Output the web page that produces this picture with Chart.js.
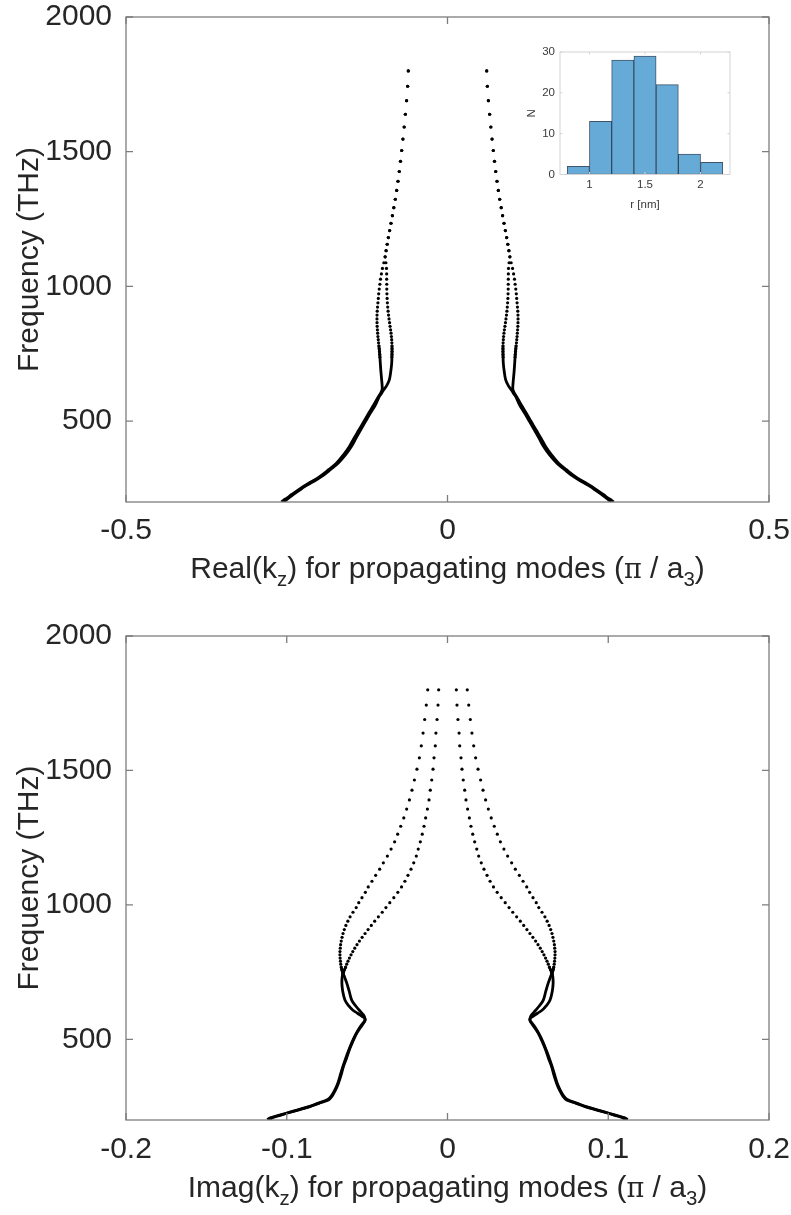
<!DOCTYPE html>
<html><head><meta charset="utf-8">
<script src="https://cdn.jsdelivr.net/npm/chart.js@4.4.0/dist/chart.umd.min.js"></script>
<style>
html,body{margin:0;padding:0;background:#fff;}
body{width:791px;height:1215px;position:relative;overflow:hidden;font-family:"Liberation Sans",Arial,sans-serif;color:#262626;}
.box{position:absolute;left:0;width:791px;}
.xt{position:absolute;left:126px;width:643px;text-align:center;font-size:30px;line-height:34px;white-space:nowrap;color:#262626;}
.xt sub{font-size:0.68em;vertical-align:-0.4em;line-height:0;}
.pi{font-family:"DejaVu Serif","Liberation Serif",serif;font-size:0.9em;}
</style></head><body>
<div class="box" style="top:0;height:600px"><canvas id="topChart"></canvas></div>
<div class="box" style="top:600px;height:615px"><canvas id="botChart"></canvas></div>
<div style="position:absolute;left:520px;top:40px;width:225px;height:180px;"><canvas id="insetChart"></canvas></div>
<div class="xt" style="top:551px">Real(k<sub>z</sub>) for propagating modes (<span class="pi">π</span> / a<sub>3</sub>)</div>
<div class="xt" style="top:1170px">Imag(k<sub>z</sub>) for propagating modes (<span class="pi">π</span> / a<sub>3</sub>)</div>
<script>
// ---------- DATA ----------
const freqDots = [1800.0, 1743.0, 1689.4, 1639.1, 1591.7, 1546.9, 1504.6, 1464.5, 1426.6, 1390.5, 1356.2, 1323.6, 1292.5, 1262.8, 1234.5, 1207.4, 1181.4, 1156.6, 1132.8, 1109.9, 1088.0, 1066.9, 1046.6, 1027.0, 1008.2, 990.1, 972.6, 955.7, 939.3, 923.6, 908.3, 893.6, 879.3, 865.5, 852.0, 839.0, 826.4, 814.2, 802.3, 790.8, 779.6, 768.7, 758.1, 747.8, 737.8];

// Top panel: Real(kz)
const realLeftOuterDots = [-0.0610, -0.0620, -0.0636, -0.0655, -0.0674, -0.0693, -0.0712, -0.0731, -0.0750, -0.0770, -0.0790, -0.0812, -0.0835, -0.0857, -0.0879, -0.0900, -0.0920, -0.0938, -0.0955, -0.0970, -0.0990, -0.1012, -0.1028, -0.1042, -0.1052, -0.1062, -0.1070, -0.1076, -0.1082, -0.1088, -0.1093, -0.1096, -0.1097, -0.1096, -0.1094, -0.1090, -0.1086, -0.1082, -0.1077, -0.1072, -0.1067, -0.1062, -0.1058, -0.1054, -0.1051];
const realLeftInnerDots = [-0.0610, -0.0620, -0.0636, -0.0655, -0.0674, -0.0693, -0.0712, -0.0731, -0.0750, -0.0770, -0.0790, -0.0812, -0.0835, -0.0857, -0.0879, -0.0900, -0.0920, -0.0938, -0.0955, -0.0970, -0.0958, -0.0949, -0.0946, -0.0946, -0.0945, -0.0944, -0.0942, -0.0939, -0.0935, -0.0930, -0.0924, -0.0917, -0.0909, -0.0901, -0.0893, -0.0885, -0.0878, -0.0872, -0.0868, -0.0865, -0.0863, -0.0862, -0.0862, -0.0863, -0.0865];
const realRightOuterDots = [0.0610, 0.0620, 0.0636, 0.0655, 0.0674, 0.0693, 0.0712, 0.0731, 0.0750, 0.0770, 0.0790, 0.0812, 0.0835, 0.0857, 0.0879, 0.0900, 0.0920, 0.0938, 0.0955, 0.0970, 0.0990, 0.1012, 0.1028, 0.1042, 0.1052, 0.1062, 0.1070, 0.1076, 0.1082, 0.1088, 0.1093, 0.1096, 0.1097, 0.1096, 0.1094, 0.1090, 0.1086, 0.1082, 0.1077, 0.1072, 0.1067, 0.1062, 0.1058, 0.1054, 0.1051];
const realRightInnerDots = [0.0610, 0.0620, 0.0636, 0.0655, 0.0674, 0.0693, 0.0712, 0.0731, 0.0750, 0.0770, 0.0790, 0.0812, 0.0835, 0.0857, 0.0879, 0.0900, 0.0920, 0.0938, 0.0955, 0.0970, 0.0958, 0.0949, 0.0946, 0.0946, 0.0945, 0.0944, 0.0942, 0.0939, 0.0935, 0.0930, 0.0924, 0.0917, 0.0909, 0.0901, 0.0893, 0.0885, 0.0878, 0.0872, 0.0868, 0.0865, 0.0863, 0.0862, 0.0862, 0.0863, 0.0865];

const freqLineReal = [780, 745, 715, 685, 653, 630, 616, 600, 591, 560, 529, 500, 467, 435, 405, 375, 344, 320, 294, 275, 257, 240, 226, 215, 207, 200];
const realLeftOuterLine = [-0.1067, -0.1053, -0.1045, -0.1036, -0.1024, -0.1016, -0.1018, -0.1050, -0.1075, -0.1148, -0.1228, -0.1298, -0.1378, -0.1458, -0.1528, -0.1618, -0.1728, -0.1848, -0.1988, -0.2118, -0.2248, -0.2348, -0.2436, -0.2492, -0.2547, -0.2582];
const realLeftInnerLine = [-0.0863, -0.0864, -0.0868, -0.0882, -0.0905, -0.0950, -0.0995, -0.1035, -0.1062, -0.1122, -0.1202, -0.1272, -0.1352, -0.1427, -0.1497, -0.1587, -0.1702, -0.1822, -0.1962, -0.2092, -0.2222, -0.2322, -0.2410, -0.2467, -0.2512, -0.2542];
const realRightOuterLine = [0.1067, 0.1053, 0.1045, 0.1036, 0.1024, 0.1016, 0.1018, 0.1050, 0.1075, 0.1148, 0.1228, 0.1298, 0.1378, 0.1458, 0.1528, 0.1618, 0.1728, 0.1848, 0.1988, 0.2118, 0.2248, 0.2348, 0.2436, 0.2492, 0.2547, 0.2582];
const realRightInnerLine = [0.0863, 0.0864, 0.0868, 0.0882, 0.0905, 0.0950, 0.0995, 0.1035, 0.1062, 0.1122, 0.1202, 0.1272, 0.1352, 0.1427, 0.1497, 0.1587, 0.1702, 0.1822, 0.1962, 0.2092, 0.2222, 0.2322, 0.2410, 0.2467, 0.2512, 0.2542];

// Bottom panel: Imag(kz)
const imagLeftOuterDots = [-0.0123, -0.0132, -0.0142, -0.0152, -0.0163, -0.0175, -0.0190, -0.0206, -0.0221, -0.0237, -0.0254, -0.0272, -0.0291, -0.0310, -0.0329, -0.0351, -0.0374, -0.0399, -0.0422, -0.0447, -0.0470, -0.0493, -0.0511, -0.0532, -0.0552, -0.0568, -0.0588, -0.0606, -0.0620, -0.0632, -0.0642, -0.0650, -0.0656, -0.0661, -0.0665, -0.0667, -0.0669, -0.0669, -0.0668, -0.0666, -0.0664, -0.0661, -0.0657, -0.0652, -0.0647];
const imagLeftInnerDots = [-0.0055, -0.0059, -0.0065, -0.0072, -0.0076, -0.0084, -0.0090, -0.0098, -0.0107, -0.0115, -0.0125, -0.0136, -0.0146, -0.0157, -0.0169, -0.0182, -0.0194, -0.0210, -0.0227, -0.0246, -0.0265, -0.0286, -0.0309, -0.0334, -0.0359, -0.0383, -0.0406, -0.0430, -0.0453, -0.0474, -0.0494, -0.0513, -0.0531, -0.0548, -0.0563, -0.0577, -0.0589, -0.0600, -0.0610, -0.0619, -0.0627, -0.0634, -0.0641, -0.0647, -0.0652];
const imagRightOuterDots = [0.0123, 0.0132, 0.0142, 0.0152, 0.0163, 0.0175, 0.0190, 0.0206, 0.0221, 0.0237, 0.0254, 0.0272, 0.0291, 0.0310, 0.0329, 0.0351, 0.0374, 0.0399, 0.0422, 0.0447, 0.0470, 0.0493, 0.0511, 0.0532, 0.0552, 0.0568, 0.0588, 0.0606, 0.0620, 0.0632, 0.0642, 0.0650, 0.0656, 0.0661, 0.0665, 0.0667, 0.0669, 0.0669, 0.0668, 0.0666, 0.0664, 0.0661, 0.0657, 0.0652, 0.0647];
const imagRightInnerDots = [0.0055, 0.0059, 0.0065, 0.0072, 0.0076, 0.0084, 0.0090, 0.0098, 0.0107, 0.0115, 0.0125, 0.0136, 0.0146, 0.0157, 0.0169, 0.0182, 0.0194, 0.0210, 0.0227, 0.0246, 0.0265, 0.0286, 0.0309, 0.0334, 0.0359, 0.0383, 0.0406, 0.0430, 0.0453, 0.0474, 0.0494, 0.0513, 0.0531, 0.0548, 0.0563, 0.0577, 0.0589, 0.0600, 0.0610, 0.0619, 0.0627, 0.0634, 0.0641, 0.0647, 0.0652];

const freqLineImagOuter = [770, 752, 733, 708, 680, 646, 625, 609, 590, 575, 566, 545, 522, 490, 460, 430, 398, 365, 336, 310, 287, 274, 262, 250, 237, 225, 215, 207, 203, 201];
const imagLeftOuterLine = [-0.0662, -0.0654, -0.0641, -0.0626, -0.0612, -0.0596, -0.0572, -0.0550, -0.0522, -0.0512, -0.0516, -0.0540, -0.0565, -0.0590, -0.0611, -0.0628, -0.0648, -0.0663, -0.0679, -0.0698, -0.0720, -0.0741, -0.0800, -0.0855, -0.0930, -0.1000, -0.1055, -0.1100, -0.1112, -0.1090];
const imagRightOuterLine = [0.0662, 0.0654, 0.0641, 0.0626, 0.0612, 0.0596, 0.0572, 0.0550, 0.0522, 0.0512, 0.0516, 0.0540, 0.0565, 0.0590, 0.0611, 0.0628, 0.0648, 0.0663, 0.0679, 0.0698, 0.0720, 0.0741, 0.0800, 0.0855, 0.0930, 0.1000, 0.1055, 0.1100, 0.1112, 0.1090];
const freqLineImagInner = [770, 752, 733, 708, 680, 646, 625, 609, 597, 580, 572, 566, 545, 522, 490, 460, 430, 398, 365, 336, 310, 290, 276, 262, 250, 237, 225, 215, 209, 205, 201];
const imagLeftInnerLine = [-0.0631, -0.0647, -0.0655, -0.0657, -0.0652, -0.0638, -0.0615, -0.0590, -0.0560, -0.0518, -0.0513, -0.0518, -0.0545, -0.0568, -0.0594, -0.0614, -0.0633, -0.0651, -0.0668, -0.0683, -0.0702, -0.0722, -0.0745, -0.0808, -0.0862, -0.0935, -0.1005, -0.1062, -0.1095, -0.1112, -0.1120];
const imagRightInnerLine = [0.0631, 0.0647, 0.0655, 0.0657, 0.0652, 0.0638, 0.0615, 0.0590, 0.0560, 0.0518, 0.0513, 0.0518, 0.0545, 0.0568, 0.0594, 0.0614, 0.0633, 0.0651, 0.0668, 0.0683, 0.0702, 0.0722, 0.0745, 0.0808, 0.0862, 0.0935, 0.1005, 0.1062, 0.1095, 0.1112, 0.1120];

// Tick labels
const freqTicks = [500, 1000, 1500, 2000];
const realTicks = [-0.5, 0, 0.5];
const imagTicks = [-0.2, -0.1, 0, 0.1, 0.2];

// Inset histogram
const histCenters = [0.9, 1.1, 1.3, 1.5, 1.7, 1.9, 2.1];
const histCounts = [2, 13, 28, 29, 22, 5, 3];
const histXTicks = [1, 1.5, 2];
const histYTicks = [0, 10, 20, 30];

// ---------- HELPERS ----------
const FONT = '"Liberation Sans", Arial, sans-serif';
const TXT = '#262626';
const FS = 30;

const boxPlugin = {
  id: 'box',
  afterDatasetsDraw(chart, args, o) {
    const {ctx, chartArea: a} = chart;
    const sx = chart.scales.x, sy = chart.scales.y;
    ctx.save();
    ctx.strokeStyle = o.color; ctx.lineWidth = o.width;
    ctx.strokeRect(a.left, a.top, a.right - a.left, a.bottom - a.top);
    ctx.beginPath();
    sx.ticks.forEach(t => {
      const p = sx.getPixelForValue(t.value);
      ctx.moveTo(p, a.bottom); ctx.lineTo(p, a.bottom - o.len);
      ctx.moveTo(p, a.top); ctx.lineTo(p, a.top + o.len);
    });
    sy.ticks.forEach(t => {
      const p = sy.getPixelForValue(t.value);
      ctx.moveTo(a.left, p); ctx.lineTo(a.left + o.len, p);
      ctx.moveTo(a.right, p); ctx.lineTo(a.right - o.len, p);
    });
    ctx.stroke();
    ctx.restore();
  }
};

function zeroPad(s) { s.paddingTop = 0; s.paddingBottom = 0; s.paddingLeft = 0; s.paddingRight = 0; }

function dotSet(xs) {
  return {data: freqDots.map((f, i) => ({x: xs[i], y: f})), showLine: false,
    pointRadius: 1.6, pointHoverRadius: 0, pointBackgroundColor: '#000', pointBorderWidth: 0};
}
function lineSet(fs, xs) {
  return {data: fs.map((f, i) => ({x: xs[i], y: f})), showLine: true, borderColor: '#000',
    borderWidth: 2.8, pointRadius: 0, pointHoverRadius: 0, tension: 0.35, fill: false};
}

function mainOptions(xMin, xMax, xTicks, padTop, xHeight, xPad) {
  return {
    responsive: true, maintainAspectRatio: false, animation: false,
    layout: {padding: {left: 0, right: 22, top: padTop, bottom: 0}},
    plugins: {legend: {display: false}, tooltip: {enabled: false},
      box: {color: '#7d7d7d', width: 1.3, len: 7}},
    scales: {
      x: {type: 'linear', min: xMin, max: xMax,
        afterBuildTicks: s => { s.ticks = xTicks.map(v => ({value: v})); },
        afterFit: s => { s.height = xHeight; zeroPad(s); },
        grid: {display: false, drawTicks: false}, border: {display: false},
        ticks: {autoSkip: false, maxRotation: 0, padding: xPad, color: TXT,
          font: {family: FONT, size: FS}, callback: v => String(v)}},
      y: {type: 'linear', min: 200, max: 2000,
        afterBuildTicks: s => { s.ticks = freqTicks.map(v => ({value: v})); },
        afterFit: s => { s.width = 126; zeroPad(s); },
        grid: {display: false, drawTicks: false}, border: {display: false},
        ticks: {autoSkip: false, padding: 14, color: TXT,
          font: {family: FONT, size: FS}, callback: v => String(v)},
        title: {display: true, text: 'Frequency (THz)', color: TXT,
          font: {family: FONT, size: FS}, padding: {top: 12, bottom: 0}}}
    }
  };
}

new Chart(document.getElementById('topChart'), {
  type: 'scatter',
  data: {datasets: [
    dotSet(realLeftOuterDots), dotSet(realLeftInnerDots), dotSet(realRightOuterDots), dotSet(realRightInnerDots),
    lineSet(freqLineReal, realLeftOuterLine), lineSet(freqLineReal, realLeftInnerLine),
    lineSet(freqLineReal, realRightOuterLine), lineSet(freqLineReal, realRightInnerLine)
  ]},
  options: mainOptions(-0.5, 0.5, realTicks, 17, 98, 11),
  plugins: [boxPlugin]
});

new Chart(document.getElementById('botChart'), {
  type: 'scatter',
  data: {datasets: [
    dotSet(imagLeftOuterDots), dotSet(imagLeftInnerDots), dotSet(imagRightOuterDots), dotSet(imagRightInnerDots),
    lineSet(freqLineImagOuter, imagLeftOuterLine), lineSet(freqLineImagInner, imagLeftInnerLine),
    lineSet(freqLineImagOuter, imagRightOuterLine), lineSet(freqLineImagInner, imagRightInnerLine)
  ]},
  options: mainOptions(-0.2, 0.2, imagTicks, 36, 95, 12),
  plugins: [boxPlugin]
});

new Chart(document.getElementById('insetChart'), {
  type: 'bar',
  data: {datasets: [{
    data: histCenters.map((c, i) => ({x: c, y: histCounts[i]})),
    backgroundColor: 'rgb(102,170,215)', borderColor: 'rgba(30,55,80,0.85)', borderWidth: 1,
    barPercentage: 1, categoryPercentage: 1, borderSkipped: false
  }]},
  options: {
    responsive: true, maintainAspectRatio: false, animation: false,
    layout: {padding: {left: 0, right: 15, top: 12, bottom: 0}},
    plugins: {legend: {display: false}, tooltip: {enabled: false},
      box: {color: '#d4d4d4', width: 1, len: 2.5}},
    scales: {
      x: {type: 'linear', min: 0.735, max: 2.265, offset: false,
        afterBuildTicks: s => { s.ticks = histXTicks.map(v => ({value: v})); },
        afterFit: s => { s.height = 45.5; zeroPad(s); },
        grid: {display: false, drawTicks: false}, border: {display: false},
        ticks: {autoSkip: false, maxRotation: 0, padding: 3, color: '#3a3a3a',
          font: {family: FONT, size: 11.5}, callback: v => String(v)},
        title: {display: true, text: 'r [nm]', color: '#3a3a3a',
          font: {family: FONT, size: 11.5}, padding: {top: 0, bottom: 8}}},
      y: {type: 'linear', min: 0, max: 30,
        afterBuildTicks: s => { s.ticks = histYTicks.map(v => ({value: v})); },
        afterFit: s => { s.width = 40; zeroPad(s); },
        grid: {display: false, drawTicks: false}, border: {display: false},
        ticks: {autoSkip: false, padding: 5, color: '#3a3a3a',
          font: {family: FONT, size: 11.5}, callback: v => String(v)},
        title: {display: true, text: 'N', color: '#3a3a3a',
          font: {family: FONT, size: 11.5}, padding: {top: 5, bottom: 0}}}
    }
  },
  plugins: [boxPlugin]
});
</script>
</body></html>
